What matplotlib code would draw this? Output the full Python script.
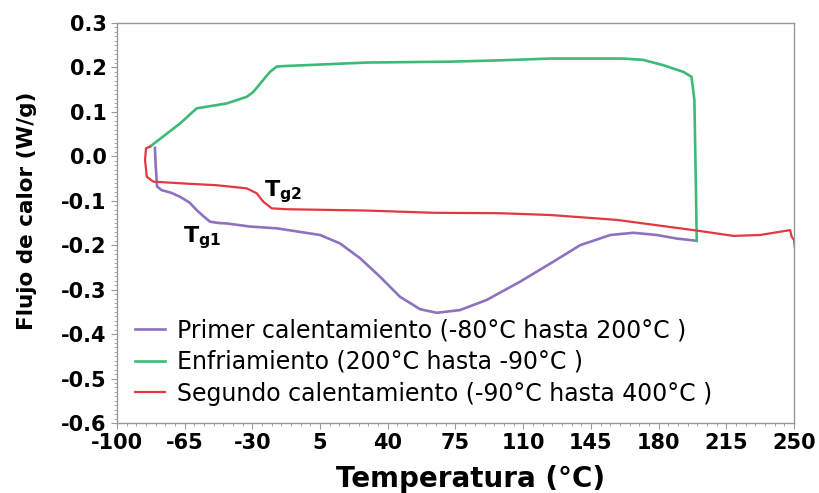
import matplotlib.pyplot as plt
from matplotlib.ticker import MultipleLocator
import numpy as np

plt.rcParams['font.family'] = ['DejaVu Sans']
plt.rcParams['axes.unicode_minus'] = False

# Primer calentamiento (-80 a 200)
t1 = [-80.4, -80.0, -79.3, -76.9, -72.0, -67.4, -62.5, -58.8, -55.0, -51.9, -47.5, -43.3, -31.2, -17.4,
      -5.4, 5.0, 15.3, 25.6, 36.0, 46.3, 56.7, 65.3, 77.3, 91.2, 108.4, 125.6,
      139.4, 155.0, 167.0, 179.0, 189.4, 199.7]
q1 = [0.019, -0.020, -0.068, -0.076, -0.082, -0.091, -0.104, -0.121, -0.136, -0.147, -0.150, -0.151,
      -0.158, -0.162, -0.170, -0.177, -0.196, -0.229, -0.271, -0.316, -0.344, -0.352, -0.346, -0.323,
      -0.282, -0.237, -0.200, -0.177, -0.172, -0.177, -0.185, -0.190]

# Enfriamiento (200 a -90)
t2 = [199.7, 199.4, 199.0, 198.5, 197.0, 192.8, 182.5, 172.0, 161.8, 123.9, 98.0, 72.2, 29.1,
      -14.0, -17.4, -20.9, -24.4, -29.5, -32.9, -43.3, -58.8, -67.4, -82.9]
q2 = [-0.190, -0.100, 0.000, 0.127, 0.179, 0.190, 0.205, 0.217, 0.220, 0.220, 0.216, 0.213, 0.211,
      0.203, 0.202, 0.190, 0.172, 0.145, 0.134, 0.119, 0.108, 0.074, 0.022]

# Segundo calentamiento (-90 a 400)
t3 = [-82.9, -85.0, -85.5, -84.6, -81.2, -65.7, -48.5, -33.0, -27.8, -24.4, -20.0, -12.3, 29.1,
      63.6, 98.0, 123.9, 158.4, 184.2, 199.7, 218.7, 232.5, 248.0, 248.8, 250.0, 251.0]
q3 = [0.022, 0.018, -0.008, -0.046, -0.057, -0.061, -0.065, -0.072, -0.083, -0.102, -0.117, -0.119,
      -0.122, -0.127, -0.128, -0.132, -0.143, -0.158, -0.167, -0.179, -0.177, -0.166, -0.181, -0.188,
      -0.225]

x_ticks = [-100, -65, -30, 5, 40, 75, 110, 145, 180, 215, 250]
y_ticks = [-0.6, -0.5, -0.4, -0.3, -0.2, -0.1, 0.0, 0.1, 0.2, 0.3]

fig = plt.figure(figsize=(8.19, 4.93), dpi=100)
ax = fig.add_axes([117/819, 1 - 423/493, 677/819, 400/493])

ax.plot(t1, q1, color='#8e72c0', lw=1.9, label='Primer calentamiento (-80°C hasta 200°C )')
ax.plot(t2, q2, color='#3dba78', lw=1.9, label='Enfriamiento (200°C hasta -90°C )')
ax.plot(t3, q3, color='#e2383f', lw=1.6, label='Segundo calentamiento (-90°C hasta 400°C )')

ax.text(-24, -0.08, r'$\mathbf{T_{g2}}$', fontsize=16, ha='left', va='center')
ax.text(-66, -0.182, r'$\mathbf{T_{g1}}$', fontsize=16, ha='left', va='center')

ax.set_xlim(-100, 250)
ax.set_ylim(-0.6, 0.3)
ax.set_xticks(x_ticks)
ax.set_yticks(y_ticks)
ax.xaxis.set_minor_locator(MultipleLocator(5))
ax.yaxis.set_minor_locator(MultipleLocator(0.01))
ax.set_yticklabels([f'{v:.1f}' for v in y_ticks])
for s in ax.spines.values():
    s.set_color('#999999')
    s.set_linewidth(1)
ax.tick_params(which='major', direction='out', length=4, color='#999999',
               labelsize=15)
ax.tick_params(which='minor', direction='out', length=2.5, color='#999999')
for lbl in ax.get_xticklabels() + ax.get_yticklabels():
    lbl.set_fontweight('bold')

ax.set_xlabel('Temperatura (°C)', fontsize=20, fontweight='bold')
ax.xaxis.set_label_coords(0.522, -0.105)
ax.set_ylabel('Flujo de calor (W/g)', fontsize=15.5, fontweight='bold')
ax.yaxis.set_label_coords(-0.118, 0.53)

ax.legend(loc='lower left', frameon=False, fontsize=17, handlelength=1.3,
          handletextpad=0.5, labelspacing=0.32, borderaxespad=0.0,
          bbox_to_anchor=(0.012, 0.02))

fig.savefig('out.png', dpi=100)
